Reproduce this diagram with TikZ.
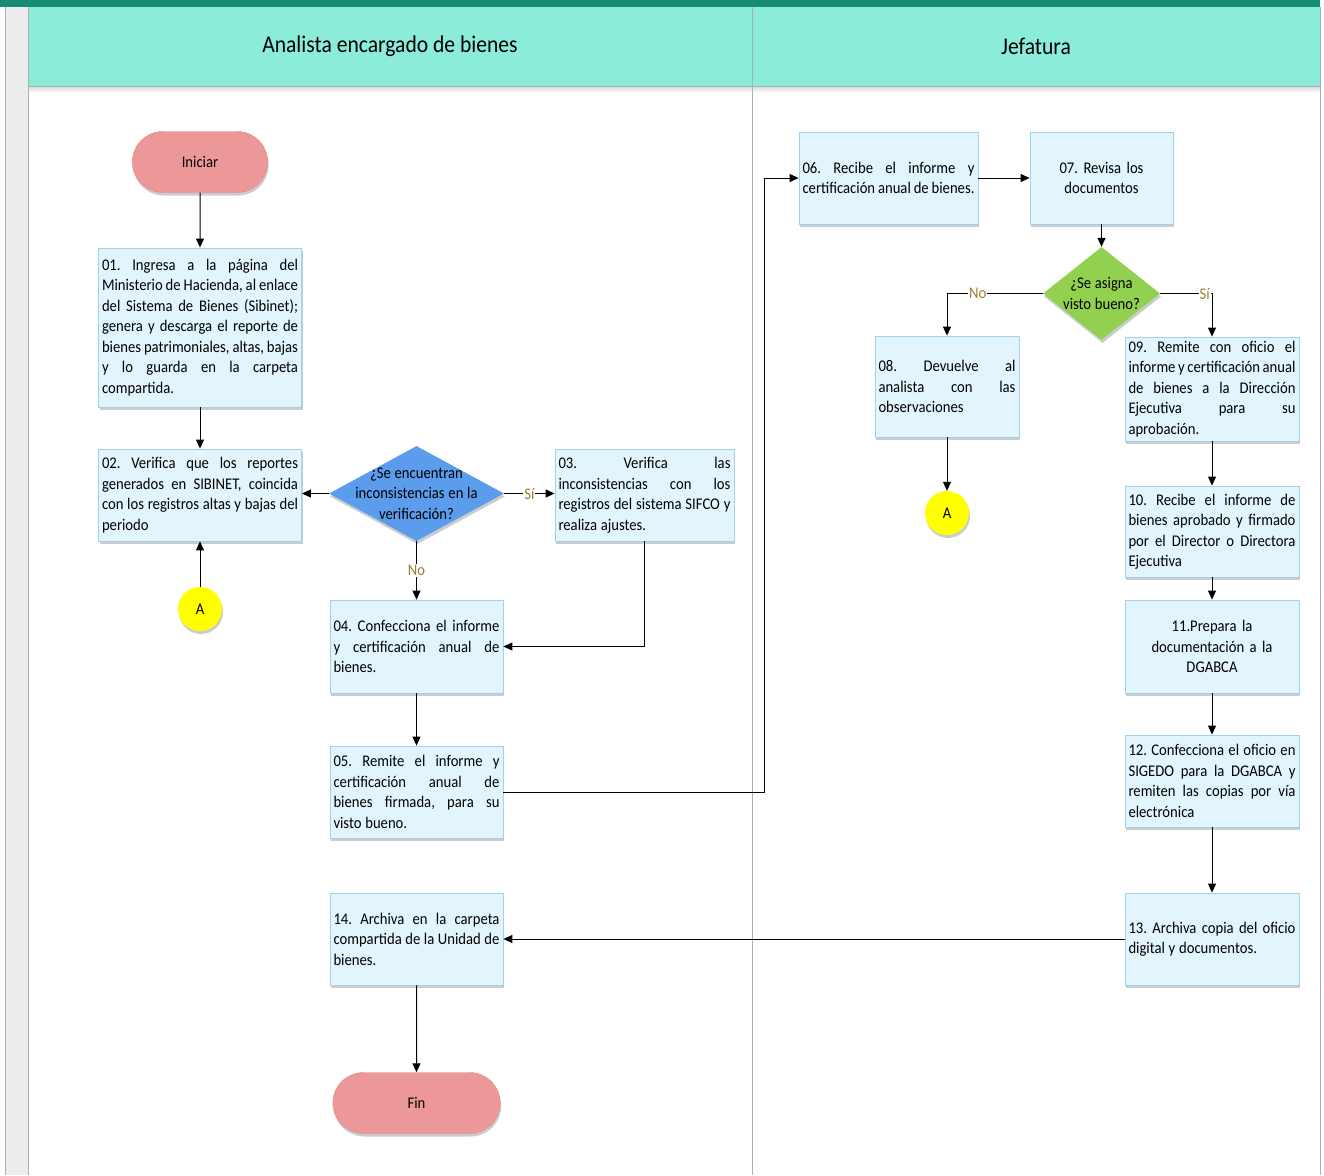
\documentclass[tikz,border=0pt]{standalone}
\usepackage{fontspec}
\setmainfont{Carlito}[FakeStretch=0.9]
\usetikzlibrary{arrows.meta,shapes.geometric,shapes.misc,shadows}

\definecolor{barverde}{RGB}{22,140,116}
\definecolor{cabecera}{RGB}{139,237,217}
\definecolor{franja}{RGB}{236,236,236}
\definecolor{borde}{RGB}{165,178,174}
\definecolor{cajafondo}{RGB}{226,244,252}
\definecolor{cajaborde}{RGB}{160,210,238}
\definecolor{terminal}{RGB}{236,152,152}
\definecolor{decazul}{RGB}{92,156,236}
\definecolor{decverde}{RGB}{146,208,80}
\definecolor{conector}{RGB}{255,255,0}
\definecolor{etiqueta}{RGB}{158,126,52}

\newcommand{\textocaja}{\fontsize{16.3}{20.5}\selectfont\frenchspacing\spaceskip=0.23em plus 1.5em minus 0.08em\tolerance=10000\hbadness=10000}

\tikzset{
  sombra/.style={drop shadow={shadow xshift=1pt, shadow yshift=-3pt, fill=black, opacity=0.2}},
  tarea/.style={draw=cajaborde, fill=cajafondo, line width=0.8pt, align=justify, inner xsep=3.5pt, inner ysep=3pt, font=\textocaja, sombra},
  inicio/.style={rounded rectangle, fill=terminal, draw=terminal!92!black, minimum height=61pt, font=\textocaja, sombra},
  decision/.style={diamond, draw=none, inner sep=0pt, sombra},
  enlace/.style={circle, fill=conector, minimum size=44pt, inner sep=0pt, font=\textocaja, sombra},
  flecha/.style={-{Triangle[length=9pt,width=8pt]}, line width=1pt},
  rotulo/.style={text=etiqueta, fill=white, inner sep=1pt, font=\textocaja},
  titulo/.style={font=\fontsize{24}{28}\selectfont},
}

\begin{document}
\begin{tikzpicture}[x=1pt,y=-1pt]
  \useasboundingbox (0,0) rectangle (1324,1175);

  % Pool and lanes
  \fill[barverde] (0,0) rectangle (1320,7);
  \fill[franja] (5,7) rectangle (28,1175);
  \draw[borde] (5,7) -- (5,1175);
  \fill[cabecera] (28,7) rectangle (1320,86);
  \shade[top color=black!15, bottom color=white] (28,86) rectangle (1320,93);
  \draw[borde] (28,86) -- (1320,86);
  \draw[borde] (28,7) -- (28,1175);
  \draw[borde] (752,7) -- (752,1175);
  \draw[borde] (1320,7) -- (1320,1175);
  \node[titulo] (tanalista) at (390,46) {Analista encargado de bienes};
  \node[titulo] (tjefatura) at (1036,46) {Jefatura};

  % Analista lane
  \node[inicio, minimum width=142pt] (inicio) at (200,162) {Iniciar};
  \node[tarea, text width=196pt, minimum height=159pt] (b01) at (200,327.5) {01. Ingresa a la página del\linebreak Ministerio de Hacienda, al enlace\linebreak del Sistema de Bienes (Sibinet);\linebreak genera y descarga el reporte de\linebreak bienes patrimoniales, altas, bajas\linebreak y lo guarda en la carpeta\linebreak compartida.};
  \node[tarea, text width=196pt, minimum height=92pt] (b02) at (200,495) {02. Verifica que los reportes\linebreak generados en SIBINET, coincida\linebreak con los registros altas y bajas del\linebreak periodo};
  \node[enlace] (a1) at (200,609) {A};
  \node[decision, fill=decazul, minimum width=175pt, minimum height=95pt,
        label={[align=center, font=\textocaja]center:¿Se encuentran\\inconsistencias en la\\verificación?}] (d1) at (416.5,493.5) {};
  \node[tarea, text width=172pt, minimum height=92pt] (b03) at (644.5,495) {03. Verifica las\linebreak inconsistencias con los\linebreak registros del sistema SIFCO y\linebreak realiza ajustes.};
  \node[tarea, text width=166pt, minimum height=93pt] (b04) at (416.5,646.5) {04. Confecciona el informe\linebreak y certificación anual de\linebreak bienes.};
  \node[tarea, text width=166pt, minimum height=92pt] (b05) at (416.5,792) {05. Remite el informe y\linebreak certificación anual de\linebreak bienes firmada, para su\linebreak visto bueno.};
  \node[tarea, text width=166pt, minimum height=92pt] (b14) at (416.5,939) {14. Archiva en la carpeta\linebreak compartida de la Unidad de\linebreak bienes.};
  \node[inicio, minimum width=174pt] (fin) at (416.5,1103) {Fin};

  % Jefatura lane
  \node[tarea, text width=172pt, minimum height=92pt] (b06) at (888.5,178) {06. Recibe el informe y\linebreak certificación anual de bienes.};
  \node[tarea, text width=136pt, minimum height=92pt, align=center] (b07) at (1101.5,178) {07. Revisa los\\documentos};
  \node[decision, fill=decverde, minimum width=117pt, minimum height=93pt,
        label={[align=center, font=\textocaja]center:¿Se asigna\\visto bueno?}] (d2) at (1101.5,293.5) {};
  \node[tarea, text width=137pt, minimum height=101pt] (b08) at (947,386.5) {08. Devuelve al\linebreak analista con las\linebreak observaciones};
  \node[enlace] (a2) at (947,513) {A};
  \node[tarea, text width=167pt, minimum height=104pt] (b09) at (1212,389) {09. Remite con oficio el\linebreak informe y certificación anual\linebreak de bienes a la Dirección\linebreak Ejecutiva para su\linebreak aprobación.};
  \node[tarea, text width=167pt, minimum height=91pt] (b10) at (1212,531.5) {10. Recibe el informe de\linebreak bienes aprobado y firmado\linebreak por el Director o Directora\linebreak Ejecutiva};
  \node[tarea, text width=167pt, minimum height=93pt, align=center] (b11) at (1212,646.5) {11.Prepara la\\documentación a la\\DGABCA};
  \node[tarea, text width=167pt, minimum height=92pt] (b12) at (1212,781) {12. Confecciona el oficio en\linebreak SIGEDO para la DGABCA y\linebreak remiten las copias por vía\linebreak electrónica};
  \node[tarea, text width=167pt, minimum height=92pt] (b13) at (1212,939) {13. Archiva copia del oficio\linebreak digital y documentos.};

  % Connectors
  \draw[flecha] (inicio) -- (b01);
  \draw[flecha] (b01) -- (b02);
  \draw[flecha] (a1) -- (b02);
  \draw[flecha] (d1.west) -- (d1.west -| b02.east);
  \draw[flecha] (d1.east) -- node[rotulo] {Sí} (d1.east -| b03.west);
  \draw[flecha] (d1.south) -- node[rotulo] {No} (b04.north);
  \draw[flecha] (b03.south) |- (b04.east);
  \draw[flecha] (b04) -- (b05);
  \coordinate (giro) at (764,792);
  \draw[flecha] (b05.east) -- (giro) |- (b06.west);
  \draw[flecha] (b06) -- (b07);
  \draw[flecha] (b07) -- (d2);
  \draw[flecha] (d2.west) -| node[rotulo, pos=0.34] {No} (b08.north);
  \draw[flecha] (d2.east) -| node[rotulo, pos=0.43] {Sí} (b09.north);
  \draw[flecha] (b08) -- (a2);
  \draw[flecha] (b09) -- (b10);
  \draw[flecha] (b10) -- (b11);
  \draw[flecha] (b11) -- (b12);
  \draw[flecha] (b12) -- (b13);
  \draw[flecha] (b13.west) -- (b14.east);
  \draw[flecha] (b14) -- (fin);
\end{tikzpicture}
\end{document}
